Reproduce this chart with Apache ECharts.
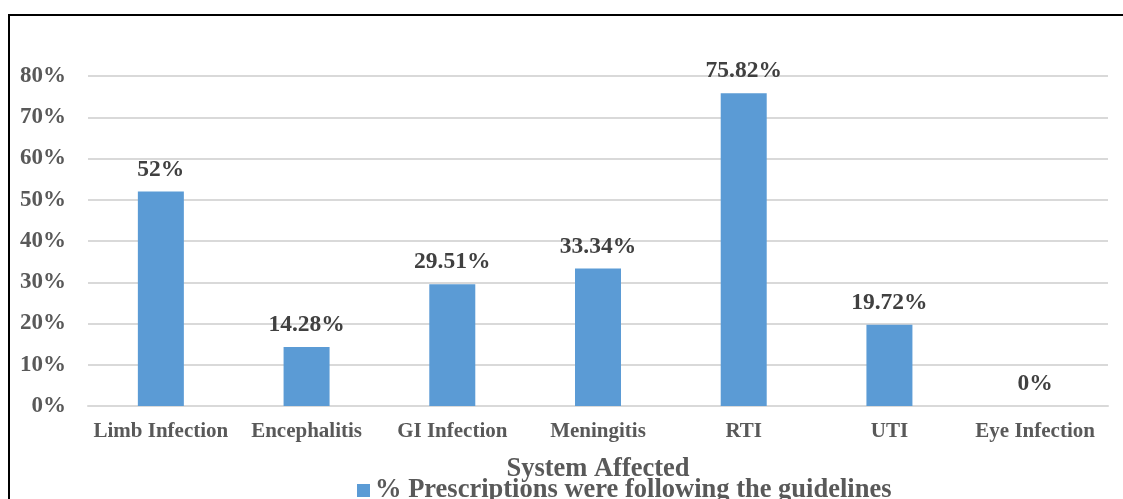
<!DOCTYPE html>
<html>
<head>
<meta charset="utf-8">
<script src="https://cdn.jsdelivr.net/npm/echarts@6/dist/echarts.min.js"></script>
<style>
  html, body { margin: 0; padding: 0; background: #ffffff; }
  #chart { width: 1123px; height: 499px; }
</style>
</head>
<body>
<div id="chart"></div>
<script>
// Categories and compliance values (%)
const categories = ['Limb Infection', 'Encephalitis', 'GI Infection', 'Meningitis', 'RTI', 'UTI', 'Eye Infection'];
const values = [52, 14.28, 29.51, 33.34, 75.82, 19.72, 0];
const valueLabels = ['52%', '14.28%', '29.51%', '33.34%', '75.82%', '19.72%', '0%'];
const seriesName = '% Prescriptions were following the guidelines';
const axisTitle = 'System Affected';

const font = '"Liberation Serif", "Times New Roman", serif';
const chart = echarts.init(document.getElementById('chart'), null, { renderer: 'canvas' });

chart.setOption({
  animation: false,
  backgroundColor: '#ffffff',
  graphic: [{
    type: 'rect',
    shape: { x: 9, y: 15, width: 1140, height: 520 },
    style: { fill: 'none', stroke: '#000000', lineWidth: 2 },
    silent: true,
    z: 100
  }],
  grid: { left: 88, right: 15, top: 76, bottom: 93, containLabel: false },
  legend: {
    data: [seriesName],
    left: 352,
    top: 472,
    itemWidth: 13,
    itemHeight: 13,
    itemGap: 7,
    icon: 'rect',
    textStyle: { fontFamily: font, fontWeight: 'bold', fontSize: 26.5, color: '#595959' }
  },
  xAxis: {
    type: 'category',
    data: categories,
    name: axisTitle,
    nameLocation: 'middle',
    nameGap: 50,
    nameTextStyle: { fontFamily: font, fontWeight: 'bold', fontSize: 26.5, color: '#595959' },
    axisLine: { show: true, lineStyle: { color: '#d9d9d9', width: 2 } },
    axisTick: { show: false },
    axisLabel: { interval: 0, fontFamily: font, fontWeight: 'bold', fontSize: 21, color: '#595959', margin: 15 }
  },
  yAxis: {
    type: 'value',
    min: 0,
    max: 80,
    interval: 10,
    axisLine: { show: false },
    axisTick: { show: false },
    splitLine: { lineStyle: { color: '#d9d9d9', width: 2 } },
    axisLabel: {
      fontFamily: font, fontWeight: 'bold', fontSize: 23, color: '#595959', margin: 22,
      formatter: v => v + '%'
    }
  },
  series: [{
    name: seriesName,
    type: 'bar',
    data: values,
    barWidth: 46,
    itemStyle: { color: '#5b9bd5' },
    label: {
      show: true,
      position: 'top',
      distance: 10,
      fontFamily: font, fontWeight: 'bold', fontSize: 23.5, color: '#404040',
      formatter: p => valueLabels[p.dataIndex]
    }
  }]
});
</script>
</body>
</html>
